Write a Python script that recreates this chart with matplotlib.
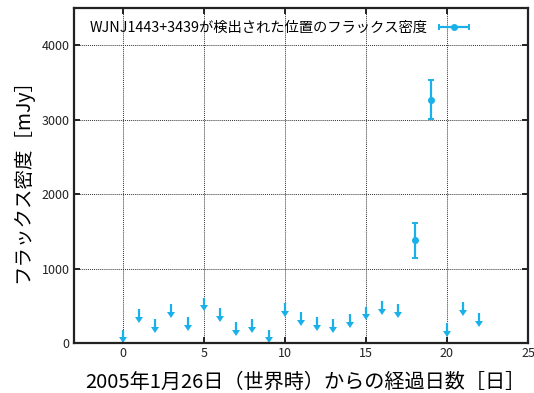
import numpy as np
import matplotlib
matplotlib.use('Agg')
import matplotlib.pyplot as plt
from matplotlib.markers import CARETDOWNBASE
from matplotlib.container import ErrorbarContainer
from matplotlib.legend_handler import HandlerErrorbar

plt.rcParams['font.family'] = ['Noto Sans CJK JP', 'DejaVu Sans']

# upper limits (mJy) per day
Day_UL = [0, 1, 2, 3, 4, 5, 6, 7, 8, 9, 10, 11, 12, 13, 14, 15, 16, 17, 20, 21, 22]
Flux_UL = [175, 455, 320, 525, 345, 610, 465, 285, 320, 175, 540, 410, 345, 320, 390,
           490, 565, 525, 265, 555, 400]
Arrow_L = 180

# detections (mJy)
Day_Det = [18, 19]
Flux_Det = [1380, 3270]
Err_Det = [235, 262]

Label = 'WJNJ1443+3439が検出された位置のフラックス密度'
Col = '#1ab0ea'

fig = plt.figure(figsize=(5.34, 3.93), dpi=100)
ax = fig.add_axes([0.1386, 0.1272, 0.8502, 0.8524])

# upper limits: line down from the limit, arrowhead at the bottom
Flux_UL = np.array(Flux_UL, dtype=float)
Low = Flux_UL - np.minimum(Arrow_L, Flux_UL)
Head = 75
ax.vlines(Day_UL, Low + Head, Flux_UL, color=Col, linewidth=1.6)
ax.plot(Day_UL, Low + Head, linestyle='none', marker=CARETDOWNBASE, ms=5.5,
        color=Col, mew=0)

ax.errorbar(Day_Det, Flux_Det, yerr=Err_Det, fmt='o', color=Col, ms=4,
            elinewidth=1.6, capsize=2.5, capthick=1.4)

# legend entry with a horizontal bar
ax.errorbar([np.nan], [np.nan], xerr=[1], fmt='o', color=Col, ms=4,
            elinewidth=1.6, capsize=2.5, capthick=1.4, label=Label)
leg = ax.legend(loc='upper right', bbox_to_anchor=(0.90, 1.0), frameon=False,
                markerfirst=False, fontsize=10.3, handlelength=2.15, handletextpad=0.8,
                handler_map={ErrorbarContainer: HandlerErrorbar(xerr_size=1.05)})

ax.set_xlim(-3, 25)
ax.set_ylim(0, 4500)
ax.set_xticks(np.arange(0, 26, 5))
ax.set_yticks(np.arange(0, 4001, 1000))
ax.grid(True, color='#333333', linestyle=(0, (1, 1)), linewidth=0.7)
ax.tick_params(direction='in', length=4, width=1.4, labelsize=9,
               top=True, right=True, colors='#222222', pad=3)
for s in ax.spines.values():
    s.set_linewidth(1.6)
    s.set_color('#222222')

ax.set_xlabel('2005年1月26日（世界時）からの経過日数［日］', fontsize=14.5, labelpad=6)
ax.xaxis.set_label_coords(0.509, -0.085)
ax.set_ylabel('フラックス密度［mJy］', fontsize=14, labelpad=6)

fig.savefig('out.png', dpi=100)
